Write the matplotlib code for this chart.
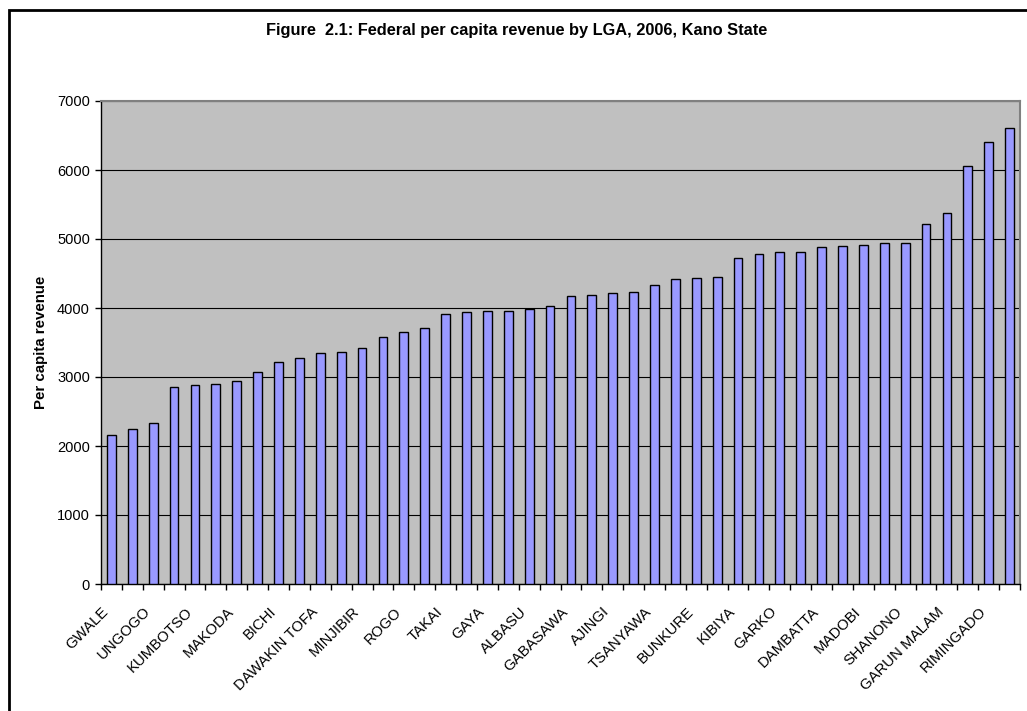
import matplotlib
matplotlib.use("Agg")
import matplotlib.pyplot as plt
import matplotlib.transforms as mtransforms
from matplotlib.patches import Rectangle
import numpy as np

plt.rcParams['font.family'] = ['Liberation Sans', 'DejaVu Sans']

# LGAs sorted by per capita revenue (only every other name is shown on the axis)
lgas = ["GWALE", "DALA", "UNGOGO", "NASARAWA", "KUMBOTSO", "KANO MUNICIPAL",
        "MAKODA", "FAGGE", "BICHI", "TARAUNI", "DAWAKIN TOFA", "GEZAWA",
        "MINJIBIR", "KURA", "ROGO", "DAWAKIN KUDU", "TAKAI", "WUDIL",
        "GAYA", "GWARZO", "ALBASU", "SUMAILA", "GABASAWA", "BEBEJI",
        "AJINGI", "WARAWA", "TSANYAWA", "KIRU", "BUNKURE", "RANO",
        "KIBIYA", "KARAYE", "GARKO", "TOFA", "DAMBATTA", "KABO",
        "MADOBI", "KUNCHI", "SHANONO", "BAGWAI", "GARUN MALAM", "TUDUN WADA",
        "RIMINGADO", "DOGUWA"]
revenue = [2155, 2250, 2340, 2860, 2890, 2900, 2943, 3073, 3218, 3275,
           3348, 3362, 3420, 3579, 3645, 3705, 3912, 3946, 3956, 3960,
           3989, 4028, 4173, 4182, 4221, 4235, 4332, 4424, 4430, 4443,
           4727, 4780, 4805, 4810, 4887, 4901, 4911, 4945, 4945, 5220,
           5379, 6059, 6406, 6614]

fig = plt.figure(figsize=(10.27, 7.11), dpi=100)
ax = fig.add_axes([101/1027, 1-584/711, (1020-101)/1027, (584-101)/711])

x = np.arange(len(lgas))
ax.set_facecolor('#C0C0C0')
ax.set_axisbelow(True)
ax.yaxis.grid(True, color='black', lw=0.8)
ax.bar(x, revenue, width=0.42, color='#9999FF', edgecolor='black', lw=1, zorder=3)

ax.set_xlim(-0.5, len(lgas) - 0.5)
ax.set_ylim(0, 7000)
ax.set_yticks(range(0, 7001, 1000))
ax.tick_params(axis='y', direction='out', length=4, width=1, labelsize=10.5, pad=4)

ax.set_xticks(x)
ax.set_xticklabels([n if i % 2 == 0 else '' for i, n in enumerate(lgas)],
                   rotation=45, ha='right', va='top', rotation_mode='anchor', fontsize=10.7)
ax.tick_params(axis='x', which='major', length=0, pad=9)
ax.set_xticks(np.arange(-0.5, len(lgas)), minor=True)
ax.tick_params(axis='x', which='minor', direction='out', length=4, width=1)

# shift the slanted labels down-left like the Excel original
shift = mtransforms.ScaledTranslation(-10/100, -8/100, fig.dpi_scale_trans)
for lab in ax.get_xticklabels():
    lab.set_transform(lab.get_transform() + shift)

for s in ['left', 'bottom']:
    ax.spines[s].set_color('black')
    ax.spines[s].set_linewidth(1)
for s in ['top', 'right']:
    ax.spines[s].set_color('#808080')
    ax.spines[s].set_linewidth(1.5)

fig.text(517/1027, 1-30/711, 'Figure  2.1: Federal per capita revenue by LGA, 2006, Kano State',
         ha='center', va='center', fontsize=11.8, fontweight='bold')
fig.text(41/1027, 1-342/711, 'Per capita revenue', rotation=90,
         ha='center', va='center', fontsize=10.8, fontweight='bold')

# outer chart border (runs off the right and bottom edges)
fig.patches.append(Rectangle((8.5/1027, -0.05), 1.1, 1-10/711+0.05, transform=fig.transFigure,
                             fill=False, edgecolor='black', lw=2))

fig.savefig('out.png', dpi=100)
